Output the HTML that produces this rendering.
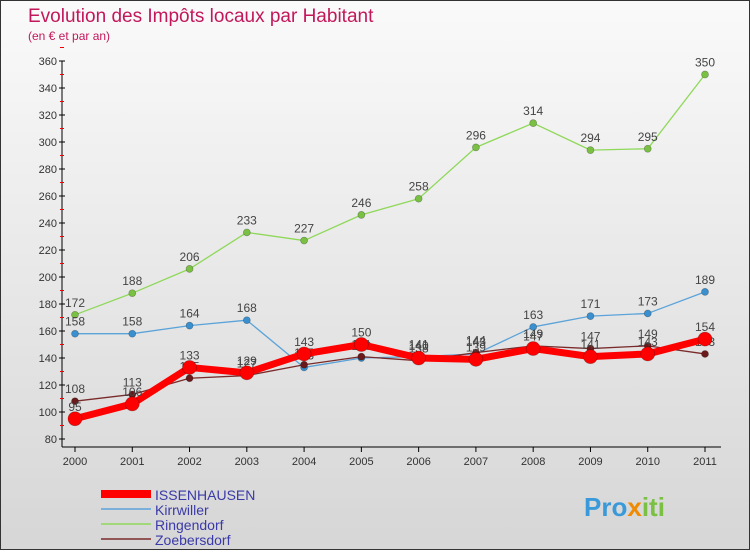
<!DOCTYPE html>
<html><head><meta charset="utf-8"><style>
body{margin:0;width:750px;height:550px;overflow:hidden;font-family:"Liberation Sans",sans-serif}
#wrap{position:relative;width:748px;height:548px;border:1px solid #333;background:linear-gradient(#fafafa,#d6d6d6)}
</style></head><body>
<div id="wrap">
<svg id="chart" width="748" height="548">
<text x="27" y="21" font-size="19" fill="#c2185b">Evolution des Impôts locaux par Habitant</text>
<text x="27" y="39" font-size="12" fill="#c2185b">(en € et par an)</text>
<g id="axes"></g><g id="series"></g><g id="legend"></g>
<text x="583" y="515" font-size="26" font-weight="bold" fill="#3a9ad9">Pro<tspan fill="#f08a00">x</tspan><tspan fill="#7ac143">iti</tspan></text>
</svg></div>
<script>
const years=["2000","2001","2002","2003","2004","2005","2006","2007","2008","2009","2010","2011"];
const yTicks=[80,100,120,140,160,180,200,220,240,260,280,300,320,340,360];
const issenhausen=[95,106,133,129,143,150,140,139,147,141,143,154];
const kirrwiller=[158,158,164,168,133,140,141,143,163,171,173,189];
const ringendorf=[172,188,206,233,227,246,258,296,314,294,295,350];
const zoebersdorf=[108,113,125,127,135,141,138,144,149,147,149,143];
const NS="http://www.w3.org/2000/svg";
const xS=i=>74+i*(630/11);
const yS=v=>438-(v-80)*(378/280);
function mk(t,a,p){const e=document.createElementNS(NS,t);for(const k in a)e.setAttribute(k,a[k]);p.appendChild(e);return e;}
const ax=document.getElementById('axes');
let l=mk('line',{x1:61,y1:yS(360),x2:61,y2:yS(80)+8,stroke:'#000'},ax);


l=mk('line',{x1:61,y1:446,x2:720,y2:446,stroke:'#000'},ax);


yTicks.forEach(v=>{
 mk('line',{x1:58,y1:yS(v),x2:64,y2:yS(v),stroke:'#000'},ax);
 mk('line',{x1:59,y1:yS(v+10),x2:63,y2:yS(v+10),stroke:'#e00'},ax);
 const t=mk('text',{x:56,y:yS(v)+4,'font-size':11,fill:'#333','text-anchor':'end'},ax);
 t.textContent=v;
 
 
});
years.forEach((y,i)=>{
 mk('line',{x1:xS(i),y1:446,x2:xS(i),y2:451,stroke:'#000'},ax);
 const t=mk('text',{x:xS(i),y:464,'font-size':11,fill:'#333','text-anchor':'middle'},ax);
 t.textContent=y;
 
 
});
const sg=document.getElementById('series');
const series=[
 {name:'Ringendorf',d:ringendorf,c:'#8fd85a',w:1.3,r:3.5,f:'#7ac143'},
 {name:'Kirrwiller',d:kirrwiller,c:'#5ba3d9',w:1.3,r:3.5,f:'#3a8fcf'},
 {name:'Zoebersdorf',d:zoebersdorf,c:'#7a2a2a',w:1.3,r:3.5,f:'#6a1a1a'},
 {name:'ISSENHAUSEN',d:issenhausen,c:'#ff0000',w:7,r:7,f:'#ff0000'}];
series.slice().forEach(s=>{
 const g=mk('g',{},sg);
 
 
 const p=mk('polyline',{points:s.d.map((v,i)=>xS(i)+','+yS(v)).join(' '),fill:'none',stroke:s.c,'stroke-width':s.w,'stroke-linejoin':'round'},g);
 
 
 s.d.forEach((v,i)=>{
  const c=mk('circle',{cx:xS(i),cy:yS(v),r:s.r,fill:s.f,stroke:'rgba(0,0,0,0.3)','stroke-width':0.7},g);
  
  
  const t=mk('text',{x:xS(i),y:yS(v)-8,'font-size':12,fill:'#444','text-anchor':'middle'},g);
  t.textContent=v;
  
  
 });
});
const lg=document.getElementById('legend');
[series[3],series[1],series[0],series[2]].forEach((s,i)=>{
 const y=493+i*15;
 const g=mk('g',{},lg);
 
 
 mk('line',{x1:100,y1:y,x2:150,y2:y,stroke:s.c,'stroke-width':s.w===7?8:1.5},g);
 const t=mk('text',{x:154,y:y+6,'font-size':14,fill:'#3a3aa8'},g);
 t.textContent=s.name;
});
</script>
</body></html>
